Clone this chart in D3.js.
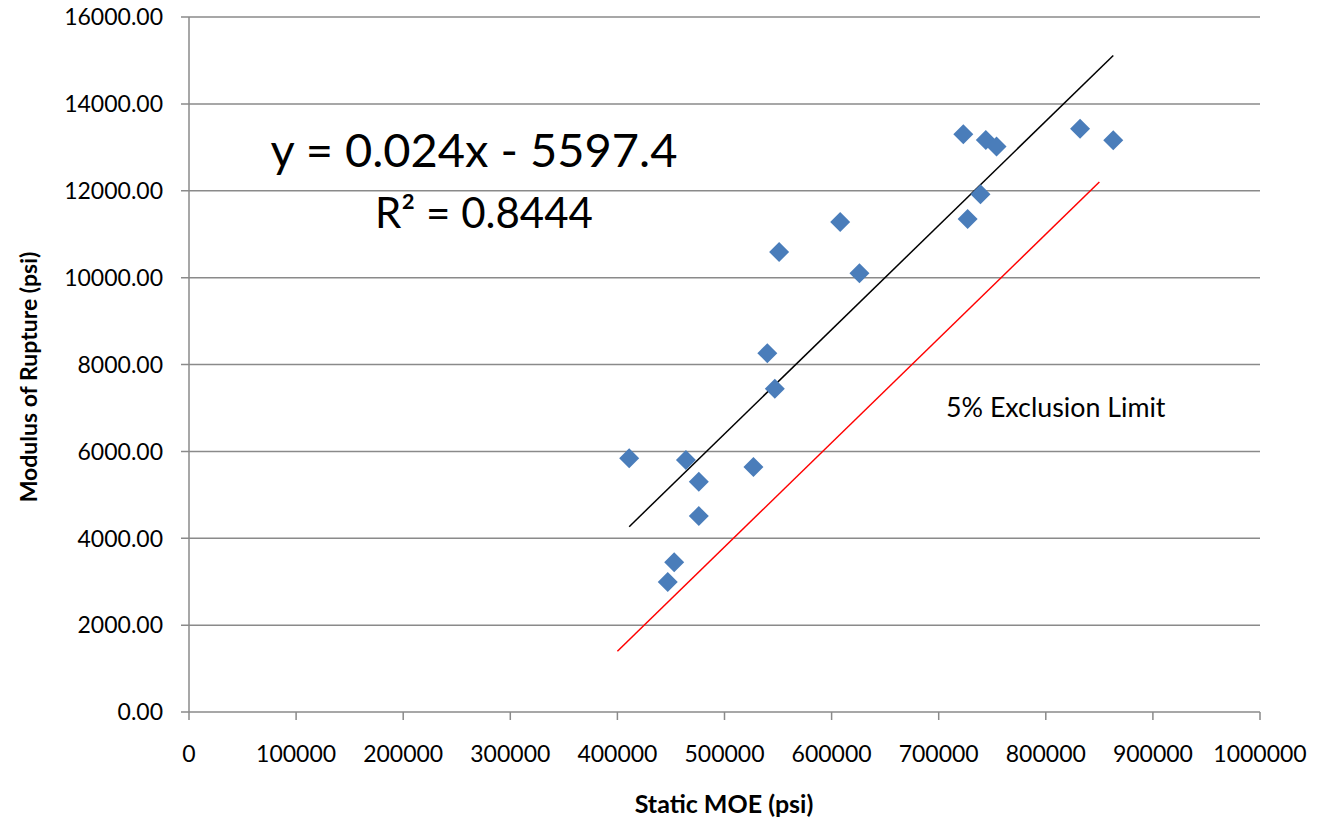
<!DOCTYPE html>
<html>
<head>
<meta charset="utf-8">
<script src="https://cdn.jsdelivr.net/npm/d3@7"></script>
<style>
  body { margin: 0; background: #fff; }
  svg { display: block; font-family: Lato, "Open Sans", sans-serif; }
</style>
</head>
<body>
<script>
// Static MOE (psi) vs Modulus of Rupture (psi)
const moe = [411000, 447000, 453000, 464000, 476000, 476000, 527000, 540000, 547000, 551000,
             608000, 626000, 723000, 727000, 739000, 744000, 754000, 832000, 863000];
const mor = [5840, 2990, 3450, 5800, 5300, 4510, 5640, 8260, 7440, 10590,
             11280, 10100, 13300, 11350, 11920, 13170, 13020, 13430, 13160];

// trend line as printed on the chart
const trendSlope = 0.024;
const trendIntercept = -5597.4;
const trendLabel = "y = 0.024x - 5597.4";
const r2Label = "R² = 0.8444";

// 5% exclusion limit line endpoints
const exclusionX = [400000, 850000];
const exclusionY = [1400, 12200];

const xTicks = [0, 100000, 200000, 300000, 400000, 500000, 600000, 700000, 800000, 900000, 1000000];
const yTicks = [0, 2000, 4000, 6000, 8000, 10000, 12000, 14000, 16000];

const width = 1324, height = 822;
const margin = { top: 17, right: 64, bottom: 110, left: 189 };

const svg = d3.select("body").append("svg")
  .attr("width", width)
  .attr("height", height);

const x = d3.scaleLinear().domain([0, 1000000]).range([margin.left, width - margin.right]);
const y = d3.scaleLinear().domain([0, 16000]).range([height - margin.bottom, margin.top]);

const gridColor = "#8a8a8a";

// horizontal gridlines + y ticks
svg.append("g")
  .selectAll("line")
  .data(yTicks)
  .join("line")
  .attr("x1", x(0) - 8)
  .attr("x2", x(1000000))
  .attr("y1", d => y(d))
  .attr("y2", d => y(d))
  .attr("stroke", gridColor)
  .attr("stroke-width", 1.5);

// y axis line
svg.append("line")
  .attr("x1", x(0)).attr("x2", x(0))
  .attr("y1", y(0)).attr("y2", y(16000))
  .attr("stroke", gridColor)
  .attr("stroke-width", 1.5);

// x ticks
svg.append("g")
  .selectAll("line")
  .data(xTicks)
  .join("line")
  .attr("x1", d => x(d)).attr("x2", d => x(d))
  .attr("y1", y(0)).attr("y2", y(0) + 8)
  .attr("stroke", gridColor)
  .attr("stroke-width", 1.5);

// y tick labels
svg.append("g")
  .style("font-size", "23px")
  .attr("text-anchor", "end")
  .selectAll("text")
  .data(yTicks)
  .join("text")
  .attr("x", x(0) - 26)
  .attr("y", d => y(d))
  .attr("dy", "0.36em")
  .text(d => d3.format(".2f")(d));

// x tick labels
svg.append("g")
  .style("font-size", "23px")
  .attr("text-anchor", "middle")
  .selectAll("text")
  .data(xTicks)
  .join("text")
  .attr("x", d => x(d))
  .attr("y", 762)
  .text(d => d3.format("d")(d));

// axis titles
svg.append("text")
  .attr("x", 724)
  .attr("y", 813)
  .attr("text-anchor", "middle")
  .style("font-size", "25px")
  .style("font-weight", "bold")
  .text("Static MOE (psi)");

svg.append("text")
  .attr("transform", "translate(37,377) rotate(-90)")
  .attr("text-anchor", "middle")
  .style("font-size", "23px")
  .style("font-weight", "bold")
  .text("Modulus of Rupture (psi)");

// trend line over the data range
const xExt = d3.extent(moe);
svg.append("line")
  .attr("x1", x(xExt[0]))
  .attr("y1", y(trendSlope * xExt[0] + trendIntercept))
  .attr("x2", x(xExt[1]))
  .attr("y2", y(trendSlope * xExt[1] + trendIntercept))
  .attr("stroke", "#000")
  .attr("stroke-width", 1.5);

// exclusion limit
svg.append("line")
  .attr("x1", x(exclusionX[0]))
  .attr("y1", y(exclusionY[0]))
  .attr("x2", x(exclusionX[1]))
  .attr("y2", y(exclusionY[1]))
  .attr("stroke", "#ff0000")
  .attr("stroke-width", 1.5);

// points
const diamond = d3.symbol().type(d3.symbolSquare).size(200);
svg.append("g")
  .selectAll("path")
  .data(d3.zip(moe, mor))
  .join("path")
  .attr("d", diamond)
  .attr("transform", d => `translate(${x(d[0])},${y(d[1])}) rotate(45)`)
  .attr("fill", "#4a7dba");

// annotations
svg.append("text")
  .attr("x", 474)
  .attr("y", 167)
  .attr("text-anchor", "middle")
  .style("font-size", "47px")
  .text(trendLabel);

svg.append("text")
  .attr("x", 484)
  .attr("y", 228)
  .attr("text-anchor", "middle")
  .style("font-size", "42px")
  .text(r2Label);

svg.append("text")
  .attr("x", 946)
  .attr("y", 417)
  .style("font-size", "26.8px")
  .text("5% Exclusion Limit");
</script>
</body>
</html>
